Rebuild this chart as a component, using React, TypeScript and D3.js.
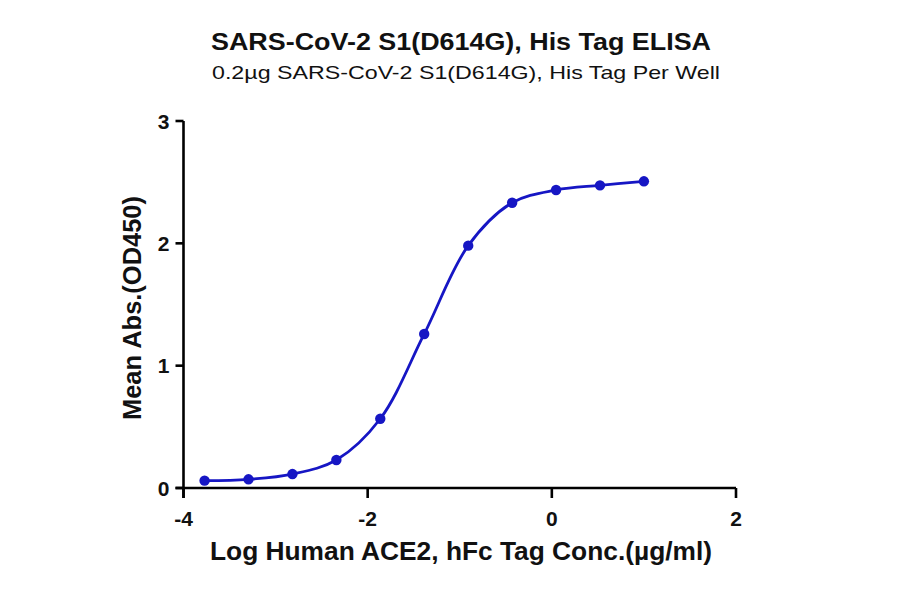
import React from "react";
import * as d3 from "d3";

const logConc = [-3.771, -3.294, -2.817, -2.34, -1.863, -1.386, -0.908, -0.431, 0.046, 0.523, 1.0];
const meanAbs = [0.060, 0.071, 0.114, 0.229, 0.566, 1.259, 1.981, 2.332, 2.436, 2.474, 2.507];
const xTicks = [-4, -2, 0, 2];
const yTicks = [0, 1, 2, 3];
const title = "SARS-CoV-2 S1(D614G), His Tag ELISA";
const subtitle = "0.2µg SARS-CoV-2 S1(D614G), His Tag Per Well";
const xTitle = "Log Human ACE2, hFc Tag Conc.(µg/ml)";
const yTitle = "Mean Abs.(OD450)";

export default function App() {
  const W = 900, H = 594;
  const x = d3.scaleLinear().domain([-4, 2]).range([183.5, 736]);
  const y = d3.scaleLinear().domain([0, 3]).range([488, 121]);
  const pts = logConc.map((v, i) => [v, meanAbs[i]] as [number, number]);
  const line = d3.line<[number, number]>()
    .x(d => x(d[0])).y(d => y(d[1]))
    .curve(d3.curveCatmullRom.alpha(0.5));
  const blue = "#1616c4";
  const ink = "#111";
  const font = "'Liberation Sans', Arial, sans-serif";
  return (
    <svg width={W} height={H} style={{ position: "absolute", left: 0, top: 0, background: "#fff" }} fontFamily={font}>
      <rect width={W} height={H} fill="#fff" />
      <text x={461} y={50} textAnchor="middle" fontWeight="bold" fontSize={23} fill={ink}
        textLength={500} lengthAdjust="spacingAndGlyphs">{title}</text>
      <text x={466} y={79} textAnchor="middle" fontSize={18.5} fill={ink}
        textLength={508} lengthAdjust="spacingAndGlyphs">{subtitle}</text>
      {/* axes */}
      <line x1={x(-4)} x2={x(-4)} y1={y(3)} y2={y(0) + 10} stroke="#000" strokeWidth={2.6} />
      <line x1={x(-4) - 8} x2={x(2)} y1={y(0)} y2={y(0)} stroke="#000" strokeWidth={2.6} />
      {yTicks.map(t => (
        <g key={"y" + t}>
          <line x1={x(-4) - 8} x2={x(-4)} y1={y(t)} y2={y(t)} stroke="#000" strokeWidth={2.6} />
          <text x={x(-4) - 14} y={y(t)} dy="0.36em" textAnchor="end" fontWeight="bold" fontSize={21} fill={ink}>{t}</text>
        </g>
      ))}
      {xTicks.map(t => (
        <g key={"x" + t}>
          <line x1={x(t)} x2={x(t)} y1={y(0)} y2={y(0) + 10} stroke="#000" strokeWidth={2.6} />
          <text x={x(t)} y={526} textAnchor="middle" fontWeight="bold" fontSize={21} fill={ink}>{t < 0 ? "-" + Math.abs(t) : t}</text>
        </g>
      ))}
      <text x={461} y={560} textAnchor="middle" fontWeight="bold" fontSize={25} fill={ink}
        textLength={502} lengthAdjust="spacingAndGlyphs">{xTitle}</text>
      <text transform={`translate(141,${308}) rotate(-90)`} textAnchor="middle" fontWeight="bold" fontSize={26} fill={ink}
        textLength={224} lengthAdjust="spacingAndGlyphs">{yTitle}</text>
      <path d={line(pts) || ""} fill="none" stroke={blue} strokeWidth={2.8} />
      {pts.map((d, i) => (
        <circle key={i} cx={x(d[0])} cy={y(d[1])} r={5.2} fill={blue} />
      ))}
    </svg>
  );
}
